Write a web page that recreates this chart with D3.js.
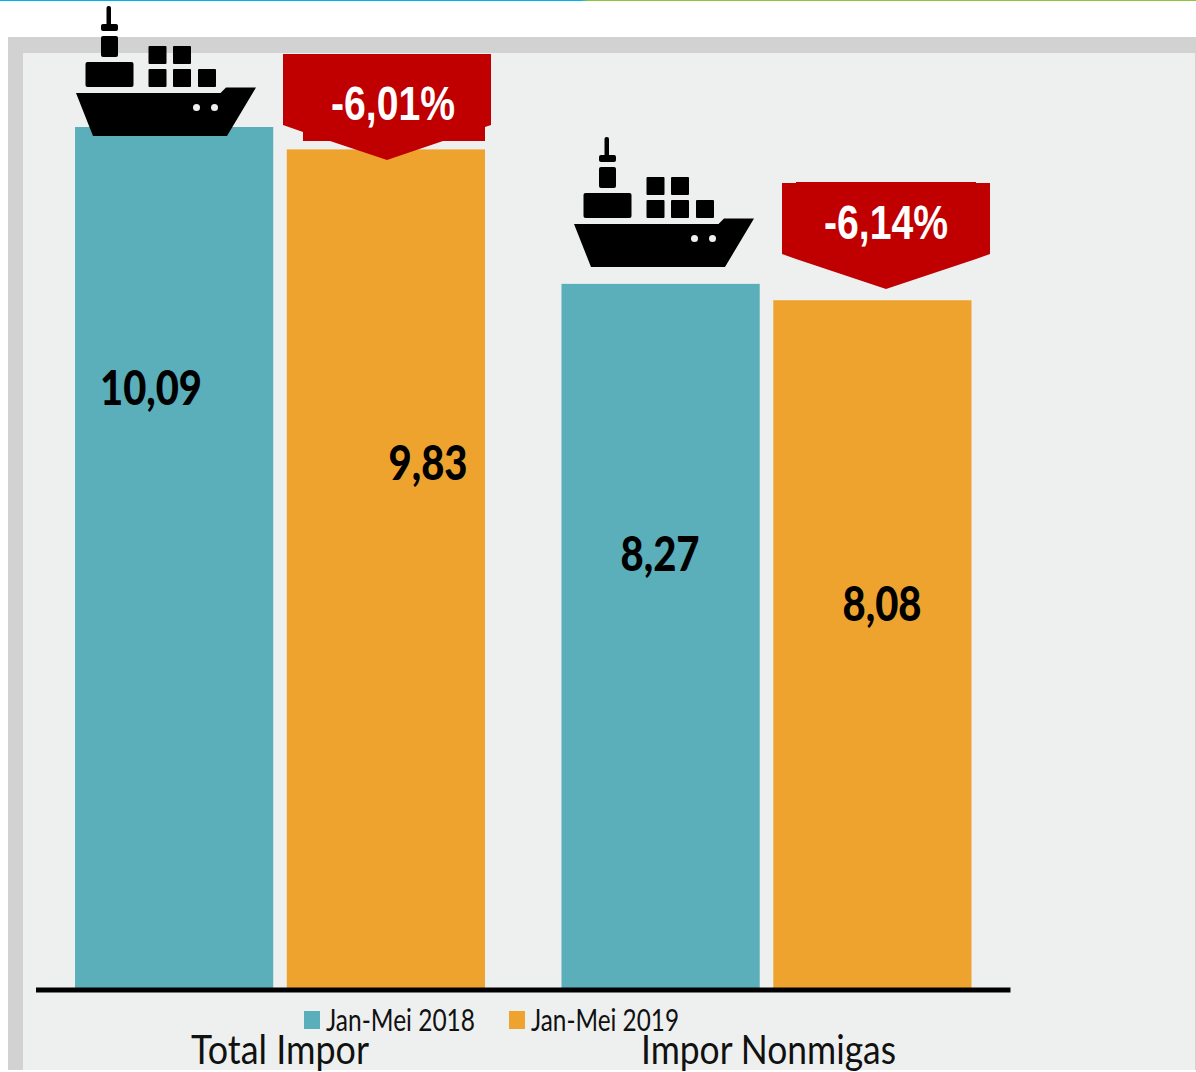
<!DOCTYPE html>
<html>
<head>
<meta charset="utf-8">
<script src="https://cdnjs.cloudflare.com/ajax/libs/d3/7.8.5/d3.min.js"></script>
<style>
  html, body { margin: 0; padding: 0; background: #fff; }
  svg { display: block; }
  text { font-family: Lato, "Open Sans", sans-serif; }
</style>
</head>
<body>
<script>
// values
var categories = ['Total Impor', 'Impor Nonmigas'];
var seriesNames = ['Jan-Mei 2018', 'Jan-Mei 2019'];
var values2018 = [10.09, 8.27];
var values2019 = [9.83, 8.08];
var changeLabels = ['-6,01%', '-6,14%'];
var valueLabels2018 = ['10,09', '8,27'];
var valueLabels2019 = ['9,83', '8,08'];
var colors = ['#5aafbb', '#efa32f'];

var width = 1196, height = 1072;
var baseline = 988;

var svg = d3.select('body').append('svg')
  .attr('width', width)
  .attr('height', height);

// top rule, blue then green
var grad = svg.append('defs').append('linearGradient').attr('id', 'rule');
grad.append('stop').attr('offset', '0.485').attr('stop-color', '#00b0f0');
grad.append('stop').attr('offset', '0.492').attr('stop-color', '#8cc63f');
svg.append('rect').attr('width', width).attr('height', 1).attr('fill', 'url(#rule)');

// panel
svg.append('rect').attr('x', 8).attr('y', 37).attr('width', 1188).attr('height', 1033).attr('fill', '#d2d2d2');
svg.append('rect').attr('x', 23).attr('y', 53).attr('width', 1172).attr('height', 1017).attr('fill', '#eef0ef');

var x0 = d3.scaleBand().domain(categories).range([37, 1010]);
var x1 = d3.scaleBand().domain(seriesNames).range([38, 448]).paddingInner(0.064);
// bar heights in the picture fit a base just above zero
var y = d3.scaleLinear().domain([0.1, 10.09]).range([baseline, 127]);

var rows = [];
categories.forEach(function(c, i) {
  rows.push({cat: c, series: seriesNames[0], value: values2018[i], label: valueLabels2018[i]});
  rows.push({cat: c, series: seriesNames[1], value: values2019[i], label: valueLabels2019[i]});
});

// the ship sits a bit differently on each group, so it is placed by hand
var shipOffsets = [[0, 0], [498, 131]];
var badgeShapes = [
  [[283, 54], [491, 54], [491, 125], [485, 127], [485, 141], [443, 141], [387, 160], [330, 141], [303, 141], [303, 132], [283, 125]],
  [[782, 183], [796, 183], [796, 182], [976, 182], [976, 183], [990, 183], [990, 254], [976, 259], [886, 289], [796, 259], [782, 254]]
];
var badgeText = [[393, 120, 124], [886, 239, 124]];
// label centre x, baseline y, width
var labelSpots = [[151, 405, 102], [428, 480, 79], [660, 571, 79], [882, 621, 79]];

// bars
svg.selectAll('.bar').data(rows).enter().append('rect')
  .attr('class', 'bar')
  .attr('x', function(d) { return x0(d.cat) + x1(d.series); })
  .attr('y', function(d) { return y(d.value); })
  .attr('width', x1.bandwidth())
  .attr('height', function(d) { return baseline - y(d.value); })
  .attr('fill', function(d) { return colors[seriesNames.indexOf(d.series)]; });

// axis line
svg.append('rect').attr('x', 36).attr('y', 987.5).attr('width', 974.5).attr('height', 5).attr('fill', '#000');

// bar values
svg.selectAll('.val').data(rows).enter().append('text')
  .attr('class', 'val')
  .attr('x', function(d, i) { return labelSpots[i][0]; })
  .attr('y', function(d, i) { return labelSpots[i][1]; })
  .attr('text-anchor', 'middle')
  .attr('font-size', 47)
  .attr('font-weight', 900)
  .attr('fill', '#000')
  .attr('textLength', function(d, i) { return labelSpots[i][2]; })
  .attr('lengthAdjust', 'spacingAndGlyphs')
  .text(function(d) { return d.label; });

// ships
function drawShip(g) {
  var parts = [
    [106.5, 6, 4.5, 20, 2], [101, 24, 17, 7, 2], [101, 36, 17, 21, 2], [85.5, 62, 48, 25, 2],
    [148.5, 46, 18, 18, 1], [173, 46, 18, 18, 1],
    [148.5, 69, 18, 18, 1], [173, 69, 18, 18, 1], [198, 69, 18, 18, 1]
  ];
  g.selectAll('rect').data(parts).enter().append('rect')
    .attr('x', function(d) { return d[0]; })
    .attr('y', function(d) { return d[1]; })
    .attr('width', function(d) { return d[2]; })
    .attr('height', function(d) { return d[3]; })
    .attr('rx', function(d) { return d[4]; })
    .attr('fill', '#000');
  g.append('path')
    .attr('d', 'M76,93L220.5,93L226,87.5L256,87.5L227,136L93,136Z')
    .attr('fill', '#000');
  g.selectAll('circle').data([196.5, 214.5]).enter().append('circle')
    .attr('cx', function(d) { return d; })
    .attr('cy', 107.5)
    .attr('r', 3.5)
    .attr('fill', '#eef0ef');
}
shipOffsets.forEach(function(o) {
  drawShip(svg.append('g').attr('transform', 'translate(' + o[0] + ',' + o[1] + ')'));
});

// change badges
var line = d3.line();
svg.selectAll('.badge').data(badgeShapes).enter().append('path')
  .attr('class', 'badge')
  .attr('d', function(d) { return line(d) + 'Z'; })
  .attr('fill', '#c00000');

svg.selectAll('.change').data(changeLabels).enter().append('text')
  .attr('class', 'change')
  .attr('x', function(d, i) { return badgeText[i][0]; })
  .attr('y', function(d, i) { return badgeText[i][1]; })
  .attr('text-anchor', 'middle')
  .attr('font-size', 48)
  .attr('font-weight', 700)
  .attr('fill', '#fff')
  .attr('textLength', function(d, i) { return badgeText[i][2]; })
  .attr('lengthAdjust', 'spacingAndGlyphs')
  .style('font-family', '"Liberation Sans", Arial, sans-serif')
  .text(function(d) { return d; });

// legend
var legendX = [304, 509];
var legend = svg.selectAll('.legend').data(seriesNames).enter().append('g')
  .attr('class', 'legend')
  .attr('transform', function(d, i) { return 'translate(' + legendX[i] + ',0)'; });
legend.append('rect')
  .attr('y', 1011).attr('width', 16).attr('height', 18)
  .attr('fill', function(d, i) { return colors[i]; });
legend.append('text')
  .attr('x', 22).attr('y', 1031)
  .attr('font-size', 30)
  .attr('fill', '#111')
  .attr('textLength', function(d, i) { return i ? 148 : 149; })
  .attr('lengthAdjust', 'spacingAndGlyphs')
  .text(function(d) { return d; });

// category names
var catSpots = [[191, 178], [641, 255]];
svg.selectAll('.cat').data(categories).enter().append('text')
  .attr('class', 'cat')
  .attr('x', function(d, i) { return catSpots[i][0]; })
  .attr('y', 1064)
  .attr('font-size', 41)
  .attr('fill', '#111')
  .attr('textLength', function(d, i) { return catSpots[i][1]; })
  .attr('lengthAdjust', 'spacingAndGlyphs')
  .text(function(d) { return d; });
</script>
</body>
</html>
